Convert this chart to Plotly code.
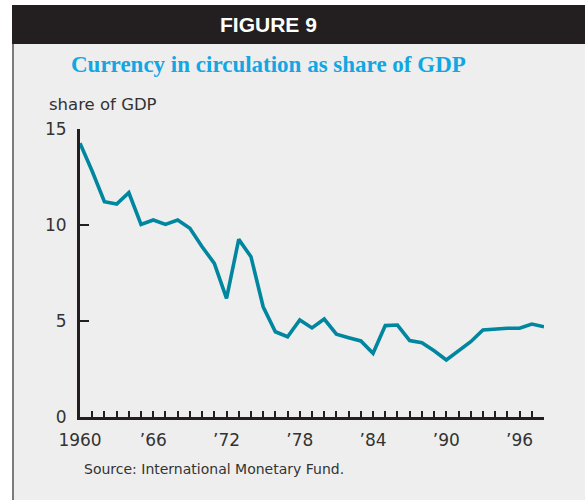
import plotly.graph_objects as go

# Currency in circulation as a share of GDP, 1960-1998
years = list(range(1960, 1999))
share_of_gdp = [
    14.26, 12.8, 11.21, 11.09, 11.68, 10.03, 10.26, 10.03, 10.26, 9.83,
    8.87, 8.0, 6.18, 9.25, 8.35, 5.74, 4.44, 4.18, 5.05, 4.64,
    5.10, 4.31, 4.13, 3.96, 3.32, 4.76, 4.79, 3.98, 3.87, 3.45,
    2.97, 3.44, 3.92, 4.53, 4.58, 4.62, 4.62, 4.84, 4.70,
]
x_tick_years = list(range(1960, 1999))
x_tick_labels = {1960: "1960", 1966: "\u201966", 1972: "\u201972", 1978: "\u201978",
                 1984: "\u201984", 1990: "\u201990", 1996: "\u201996"}
y_ticks = [0, 5, 10, 15]

W, H = 585, 500
L, R, T, B = 80, 41, 129, 83
PW, PH = W - L - R, H - T - B


def px(x):
    return (x - L) / PW


def py(y):
    return 1 - (y - T) / PH


AXIS = "#231f20"
BG = "#eeeeee"
TEXT = "#333333"
SANS = "DejaVu Sans, Verdana, sans-serif"

fig = go.Figure()
fig.add_trace(go.Scatter(
    x=years, y=share_of_gdp, mode="lines",
    line=dict(color="#00869e", width=3.6),
    hoverinfo="skip", showlegend=False,
))

fig.update_layout(
    width=W, height=H,
    margin=dict(l=L, r=R, t=T, b=B),
    paper_bgcolor="white", plot_bgcolor=BG,
    font=dict(family=SANS, color=TEXT),
    xaxis=dict(
        range=[1960, 1998], showgrid=False, zeroline=False,
        showline=True, linecolor=AXIS, linewidth=3,
        tickmode="array", tickvals=x_tick_years,
        ticktext=[x_tick_labels.get(y, "") for y in x_tick_years],
        ticks="inside", ticklen=6, tickwidth=2, tickcolor=AXIS,
        tickfont=dict(family=SANS, size=17, color=TEXT),
        ticklabelstandoff=6,
        fixedrange=True,
    ),
    yaxis=dict(
        range=[0, 15], showgrid=False, zeroline=False,
        showline=True, linecolor=AXIS, linewidth=3,
        tickmode="array", tickvals=y_ticks,
        ticks="inside", ticklen=9, tickwidth=2, tickcolor=AXIS,
        tickfont=dict(family=SANS, size=17, color=TEXT),
        ticklabelstandoff=7,
        fixedrange=True,
    ),
    shapes=[
        # light panel behind everything
        dict(type="rect", xref="paper", yref="paper", layer="below",
             x0=px(12), x1=px(W), y0=py(H), y1=py(44),
             fillcolor=BG, line=dict(width=0)),
        # dark header band
        dict(type="rect", xref="paper", yref="paper",
             x0=px(12), x1=px(W), y0=py(44), y1=py(5),
             fillcolor="#231f20", line=dict(width=0)),
        # left rule of the panel
        dict(type="line", xref="paper", yref="paper",
             x0=px(13), x1=px(13), y0=py(H), y1=py(44),
             line=dict(color="#555555", width=1.5)),
    ],
    annotations=[
        dict(text="<b>FIGURE 9</b>", xref="paper", yref="paper",
             x=px(268), y=py(25), yanchor="middle", showarrow=False,
             font=dict(family="Liberation Sans Narrow, Arial Narrow, sans-serif",
                       size=21, color="white")),
        dict(text="<b>Currency in circulation as share of GDP</b>", xref="paper", yref="paper",
             x=px(268), y=py(64), yanchor="middle", showarrow=False,
             font=dict(family="Liberation Serif, Times New Roman, serif", size=23, color="#12a6e2")),
        dict(text="share of GDP", xref="paper", yref="paper",
             x=px(47), y=py(104), xanchor="left", yanchor="middle", showarrow=False,
             font=dict(family=SANS, size=16.5, color=TEXT)),
        dict(text="Source: International Monetary Fund.", xref="paper", yref="paper",
             x=px(82), y=py(469), xanchor="left", yanchor="middle", showarrow=False,
             font=dict(family=SANS, size=14, color=TEXT)),
    ],
)

fig.write_html("out.html")
